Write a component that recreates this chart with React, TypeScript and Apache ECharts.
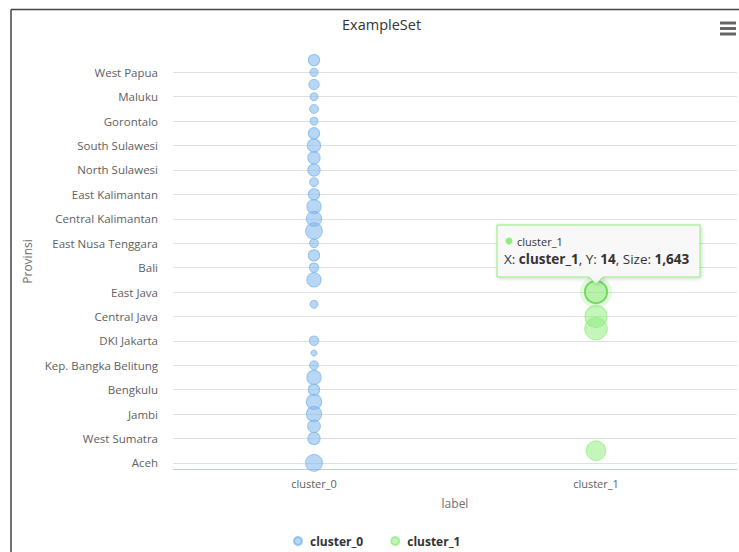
import React, { useEffect, useRef } from "react";
import * as echarts from "echarts";

const provinces = [
  "Aceh", "North Sumatra", "West Sumatra", "Riau", "Jambi", "South Sumatra",
  "Bengkulu", "Lampung", "Kep. Bangka Belitung", "Kep. Riau", "DKI Jakarta",
  "West Java", "Central Java", "DI Yogyakarta", "East Java", "Banten", "Bali",
  "West Nusa Tenggara", "East Nusa Tenggara", "West Kalimantan",
  "Central Kalimantan", "South Kalimantan", "East Kalimantan", "North Kalimantan",
  "North Sulawesi", "Central Sulawesi", "South Sulawesi", "Southeast Sulawesi",
  "Gorontalo", "West Sulawesi", "Maluku", "North Maluku", "West Papua", "Papua",
];
const clusters = ["cluster_0", "cluster_1"];

const cluster0Provinces = [0, 2, 3, 4, 5, 6, 7, 8, 9, 10, 13, 15, 16, 17, 18, 19, 20, 21, 22, 23, 24, 25, 26, 27, 28, 29, 30, 31, 32, 33];
const cluster0Sizes = [730, 275, 315, 550, 550, 206, 450, 82, 32, 101, 53, 450, 101, 206, 82, 733, 554, 450, 206, 82, 275, 275, 357, 206, 53, 82, 53, 148, 66, 206];

const cluster1Provinces = [1, 11, 12, 14];
const cluster1Sizes = [1169, 1710, 1590, 1643];
const hoveredPoint = 3; // East Java, cluster_1

const FONT = "'Open Sans', 'DejaVu Sans', sans-serif";
const GREEN = "#90ed7d";

export default function App() {
  const ref = useRef<HTMLDivElement>(null);

  useEffect(() => {
    const chart = echarts.init(ref.current!, null, { renderer: "svg" });
    const allSizes = [...cluster0Sizes, ...cluster1Sizes];
    const zMin = Math.min(...allSizes);
    const zMax = Math.max(...allSizes);
    const minD = 6;
    const maxD = 22.5;
    const diam = (z: number) =>
      minD + Math.sqrt((z - zMin) / (zMax - zMin)) * (maxD - minD);

    const option: any = {
      animation: false,
      title: {
        text: "ExampleSet",
        left: 337,
        top: 12,
        textStyle: { fontFamily: FONT, fontSize: 14.5, fontWeight: "normal", color: "#333333" },
      },
      legend: {
        data: clusters,
        left: 288,
        top: 530,
        icon: "circle",
        itemWidth: 14,
        itemHeight: 8,
        itemGap: 27,
        textStyle: { fontFamily: FONT, fontSize: 12, fontWeight: "bold", color: "#333333" },
      },
      grid: { left: 173, right: 2, top: 54, bottom: 83 },
      xAxis: {
        type: "category",
        data: clusters,
        boundaryGap: true,
        name: "label",
        nameLocation: "middle",
        nameGap: 28,
        nameTextStyle: { fontFamily: FONT, fontSize: 12, color: "#707070" },
        axisLine: { show: true, lineStyle: { color: "#C0D0E0", width: 1 } },
        axisTick: { show: false },
        axisLabel: { fontFamily: FONT, fontSize: 11, color: "#606060", margin: 9 },
        splitLine: { show: false },
      },
      yAxis: {
        type: "category",
        data: provinces,
        boundaryGap: true,
        name: "Provinsi",
        nameLocation: "middle",
        nameRotate: 90,
        nameGap: 139,
        nameTextStyle: { fontFamily: FONT, fontSize: 12, color: "#707070" },
        axisLine: { show: false },
        axisTick: { show: false },
        axisLabel: { interval: 1, fontFamily: FONT, fontSize: 11.5, color: "#606060", margin: 15 },
        splitLine: {
          show: true,
          interval: 1,
          alignWithLabel: true,
          lineStyle: { color: "#e0e0e0", width: 1 },
        },
      },
      series: [
        {
          name: "cluster_0",
          type: "scatter",
          data: cluster0Provinces.map((p, i) => [0, p, cluster0Sizes[i]]),
          symbolSize: (v: number[]) => diam(v[2]),
          itemStyle: { color: "rgba(124,181,236,0.68)", borderColor: "rgba(124,181,236,0.95)", borderWidth: 1 },
          emphasis: { disabled: true },
        },
        {
          name: "cluster_1",
          type: "scatter",
          data: cluster1Provinces.map((p, i) => [1, p, cluster1Sizes[i]]),
          symbolSize: (v: number[]) => diam(v[2]),
          itemStyle: { color: "rgba(144,237,125,0.66)", borderColor: "rgba(144,237,125,0.95)", borderWidth: 1 },
          emphasis: { disabled: true },
        },
      ],
    };
    chart.setOption(option);

    const hy = cluster1Provinces[hoveredPoint];
    const hz = cluster1Sizes[hoveredPoint];
    const pt = chart.convertToPixel({ gridIndex: 0 } as any, [1, hy]) as number[];
    const px = pt[0];
    const py = pt[1];
    const r = diam(hz) / 2;

    const x0 = px - 99, x1 = px + 104, y0 = py - 67, y1 = py - 15;
    const tipY = py - 8;

    const graphics: any[] = [
      // chart border (left & top edges visible)
      { type: "line", shape: { x1: 11, y1: 9.5, x2: 739, y2: 9.5 }, style: { stroke: "#444", lineWidth: 1.5 }, z: 100 },
      { type: "line", shape: { x1: 11, y1: 9.5, x2: 11, y2: 552 }, style: { stroke: "#444", lineWidth: 1.5 }, z: 100 },
      // menu icon
      { type: "rect", shape: { x: 720, y: 21.5, width: 16, height: 3 }, style: { fill: "#666" }, z: 100 },
      { type: "rect", shape: { x: 720, y: 27, width: 16, height: 3 }, style: { fill: "#666" }, z: 100 },
      { type: "rect", shape: { x: 720, y: 32.5, width: 16, height: 3 }, style: { fill: "#666" }, z: 100 },
      // hover halo & ring
      { type: "circle", shape: { cx: px, cy: py, r: r + 5 }, style: { fill: "rgba(144,237,125,0.25)" }, z: 50 },
      { type: "circle", shape: { cx: px, cy: py, r: r }, style: { fill: "none", stroke: "rgba(110,215,95,0.9)", lineWidth: 2 }, z: 51 },
      // tooltip callout
      {
        type: "polygon",
        shape: {
          points: [
            [x0, y0], [x1, y0], [x1, y1], [px + 7, y1], [px, tipY], [px - 7, y1], [x0, y1],
          ],
        },
        style: {
          fill: "rgba(249,249,249,0.92)",
          stroke: GREEN,
          lineWidth: 1,
          shadowBlur: 4,
          shadowColor: "rgba(0,0,0,0.18)",
          shadowOffsetX: 1,
          shadowOffsetY: 1,
        },
        z: 60,
      },
      { type: "circle", shape: { cx: px - 87, cy: py - 51, r: 3.5 }, style: { fill: GREEN }, z: 61 },
      {
        type: "text",
        x: px - 79,
        y: py - 51,
        style: { text: "cluster_1", fontFamily: FONT, fontSize: 11, fill: "#333333", verticalAlign: "middle" },
        z: 61,
      },
      {
        type: "text",
        x: px - 92,
        y: py - 33,
        style: {
          text: `{n|X: }{b|${clusters[1]}}{n|, Y: }{b|${hy}}{n|, Size: }{b|${hz.toLocaleString("en-US")}}`,
          verticalAlign: "middle",
          rich: {
            n: { fontFamily: FONT, fontSize: 13.5, fill: "#333333" },
            b: { fontFamily: FONT, fontSize: 13.5, fontWeight: "bold", fill: "#333333" },
          },
        },
        z: 61,
      },
    ];
    chart.setOption({ graphic: graphics });

    return () => chart.dispose();
  }, []);

  return (
    <div
      ref={ref}
      style={{ position: "absolute", left: 0, top: 0, width: 739, height: 552, background: "#fff" }}
    />
  );
}
